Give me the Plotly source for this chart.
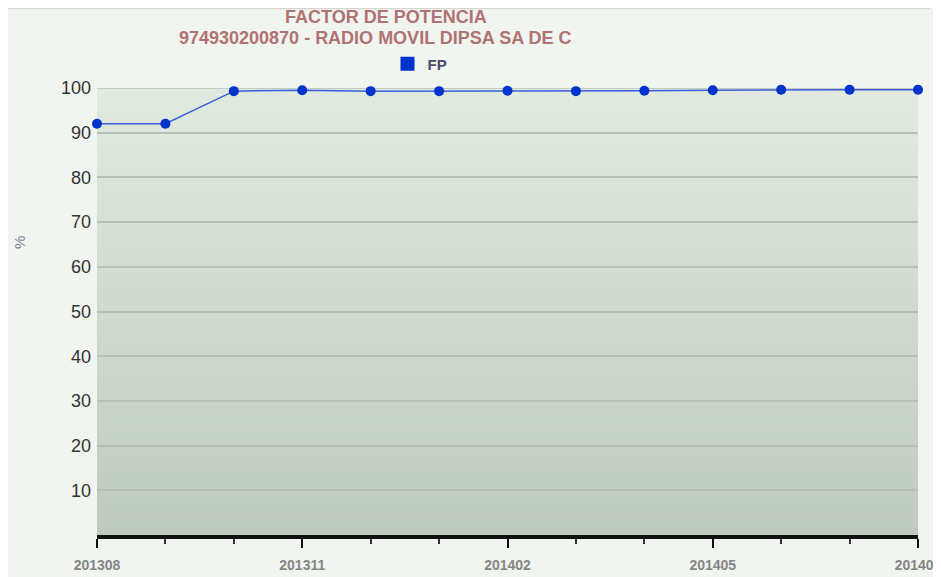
import plotly.graph_objects as go

months = ["201308", "201309", "201310", "201311", "201312", "201401", "201402",
          "201403", "201404", "201405", "201406", "201407", "201408"]
fp_values = [92.0, 92.0, 99.3, 99.5, 99.3, 99.3, 99.4, 99.3, 99.4, 99.5, 99.6, 99.6, 99.6]
y_ticks = [10, 20, 30, 40, 50, 60, 70, 80, 90, 100]
x_tick_idx = [0, 3, 6, 9, 12]
title_line1 = "FACTOR DE POTENCIA"
title_line2 = "974930200870 - RADIO MOVIL DIPSA SA DE C"

x_idx = list(range(len(months)))

# page body has an 8px margin: figure origin sits at screen (8, 8)
O = 8
W, H = 941 - O, 577 - O
# plot area in screen pixels: x 97..918, y 88..535
L, R, T, B = 97 - O, W - (918 - O), 88 - O, H - (535 - O)
PW, PH = W - L - R, H - T - B


def px(x):
    return (x - O - L) / PW


def py(y):
    return (H - B - (y - O)) / PH


fig = go.Figure()
fig.add_trace(go.Scatter(
    x=x_idx, y=fp_values, mode="lines+markers", name="FP", showlegend=False,
    line=dict(color="#3a5fd8", width=1.5),
    marker=dict(color="#0033cc", size=10),
    cliponaxis=False,
))
fig.add_trace(go.Scatter(
    x=[None], y=[None], mode="markers", name="FP",
    marker=dict(color="#0033cc", size=14, symbol="square"),
))

shapes = [
    dict(type="line", xref="paper", yref="paper", x0=px(8), x1=px(930),
         y0=py(8.5), y1=py(8.5), line=dict(color="#d6d6d6", width=1.5), layer="below"),
]
n = 120
top = (0xe0, 0xea, 0xdf)
bot = (0xc0, 0xcb, 0xbf)
for i in range(n):
    t = i / (n - 1)
    c = tuple(int(round(top[k] + (bot[k] - top[k]) * t)) for k in range(3))
    shapes.append(dict(type="rect", xref="x domain", yref="y domain",
                       x0=0, x1=1, y0=1 - (i + 1.3) / n, y1=1 - i / n,
                       fillcolor="rgb(%d,%d,%d)" % c, line=dict(width=0), layer="below"))
# top gridline (at the edge of the range)
shapes.append(dict(type="line", xref="x domain", yref="y", x0=0, x1=1,
                   y0=y_ticks[-1], y1=y_ticks[-1], line=dict(color="#c4cdc4", width=2),
                   layer="below"))

annotations = [
    dict(text="<b>%s</b>" % title_line1, xref="paper", yref="paper", x=px(386), y=py(17),
         xanchor="center", yanchor="middle", showarrow=False,
         font=dict(size=18, color="#b07272")),
    dict(text="<b>%s</b>" % title_line2, xref="paper", yref="paper", x=px(375), y=py(38),
         xanchor="center", yanchor="middle", showarrow=False,
         font=dict(size=18, color="#b07272")),
    dict(text="%", xref="paper", yref="paper", x=px(19), y=py(243),
         xanchor="center", yanchor="middle", showarrow=False, textangle=-90,
         font=dict(size=15, color="#7a7a9a")),
]

fig.update_layout(
    width=W, height=H,
    margin=dict(l=L, r=R, t=T, b=B),
    paper_bgcolor="#f1f5f0",
    plot_bgcolor="rgba(0,0,0,0)",
    font=dict(family="Liberation Sans, Arial, sans-serif"),
    shapes=shapes,
    annotations=annotations,
    legend=dict(orientation="h", x=px(420), xanchor="center", y=py(64), yanchor="middle",
                bgcolor="rgba(0,0,0,0)", font=dict(size=15, color="#4a4a6a", weight="bold"),
                itemwidth=30),
    xaxis=dict(
        range=[0, 12], tickvals=x_tick_idx, ticktext=[months[i] for i in x_tick_idx],
        showgrid=False, zeroline=False, automargin=False,
        showline=True, linecolor="#111111", linewidth=4,
        ticks="outside", ticklen=9, tickwidth=2, tickcolor="#111111",
        minor=dict(dtick=1, tick0=0, ticks="outside", ticklen=5, tickwidth=1.5, tickcolor="#333333"),
        tickfont=dict(size=14, color="#858585", weight="bold"),
        ticklabelstandoff=5, ticklabeloverflow="allow",
    ),
    yaxis=dict(
        range=[0, 100], tickvals=y_ticks, automargin=False,
        showgrid=True, gridcolor="#b6c0b6", gridwidth=2,
        zeroline=False, showline=False,
        ticks="", ticklabelstandoff=5,
        tickfont=dict(size=18, color="#333333"),
    ),
)

fig.write_html("out.html")
